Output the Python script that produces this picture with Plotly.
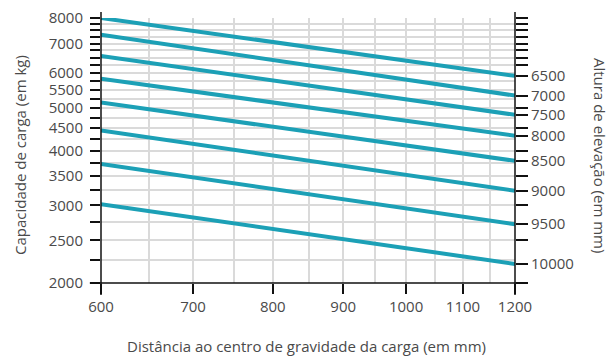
import plotly.graph_objects as go

# ---- data ----
distance_mm = [600, 1200]
lift_heights_mm = [6500, 7000, 7500, 8000, 8500, 9000, 9500, 10000]
capacity_at_600 = [8000, 7330, 6560, 5820, 5140, 4440, 3730, 3020]
capacity_at_1200 = [5910, 5330, 4820, 4320, 3790, 3240, 2720, 2210]

x_ticks = [600, 700, 800, 900, 1000, 1100, 1200]
x_minor = [650, 750, 850, 950, 1050, 1150]
y_ticks = list(range(2000, 8001, 250))
y_labels = [2000, 2500, 3000, 3500, 4000, 4500, 5000, 5500, 6000, 7000, 8000]

LINE = "#1CA0B6"
TXT = "#4a4a4a"
GRID = "#dadada"
FONT = "Open Sans"
TICKSZ = 15

fig = go.Figure()
for h, a, b in zip(lift_heights_mm, capacity_at_600, capacity_at_1200):
    fig.add_trace(go.Scatter(
        x=distance_mm, y=[a, b], mode="lines", name=f"{h} mm",
        line=dict(color=LINE, width=4), showlegend=False, hoverinfo="skip"))

# invisible trace to anchor the right axis
fig.add_trace(go.Scatter(
    x=[distance_mm[-1]] * len(capacity_at_1200), y=capacity_at_1200,
    yaxis="y2", mode="markers", marker=dict(opacity=0),
    showlegend=False, hoverinfo="skip"))

# unlabeled right ticks: the 250-kg grid, skipping those that crowd a labelled tick
plain_right = [v for v in y_ticks
               if all(abs(v - c) / c > 0.035 for c in capacity_at_1200)]
right_vals = plain_right + capacity_at_1200
right_text = [""] * len(plain_right) + [str(h) for h in lift_heights_mm]

yr = [3.30103, 3.90309]
fig.update_layout(
    template="none",
    width=615, height=360, autosize=False,
    margin=dict(l=101, r=100, t=18, b=77, autoexpand=False),
    paper_bgcolor="white", plot_bgcolor="white",
    font=dict(family=FONT, size=15, color=TXT),
    xaxis=dict(
        type="log", range=[2.778151, 3.079181], automargin=False,
        tickmode="array", tickvals=x_ticks, ticktext=[str(v) for v in x_ticks],
        ticks="outside", ticklen=10, tickwidth=1.5, tickcolor="#111",
        showgrid=True, gridcolor=GRID, gridwidth=1.5,
        showline=False, zeroline=False,
        minor=dict(tickmode="array", tickvals=x_minor, ticklen=0,
                   showgrid=True, gridcolor=GRID, gridwidth=1.5),
        tickfont=dict(size=TICKSZ, color=TXT, family=FONT),
    ),
    yaxis=dict(
        type="log", range=yr, automargin=False,
        tickmode="array", tickvals=y_ticks,
        ticktext=[str(v) if v in y_labels else "" for v in y_ticks],
        ticks="outside", ticklen=10, tickwidth=1.5, tickcolor="#111",
        ticklabelstandoff=4,
        showgrid=True, gridcolor=GRID, gridwidth=1.5,
        showline=False, zeroline=False,
        tickfont=dict(size=TICKSZ, color=TXT, family=FONT),
    ),
    yaxis2=dict(
        type="log", range=yr, overlaying="y", side="right", automargin=False,
        tickmode="array", tickvals=right_vals, ticktext=right_text,
        ticks="outside", ticklen=12, tickwidth=1.5, tickcolor="#111",
        showgrid=False, showline=False, zeroline=False,
        tickfont=dict(size=TICKSZ, color=TXT, family=FONT),
    ),
    shapes=[
        dict(type="line", xref="paper", yref="paper", x0=0, x1=0, y0=-0.045, y1=1.023,
             line=dict(color="#111", width=1.5)),
        dict(type="line", xref="paper", yref="paper", x0=1, x1=1, y0=-0.045, y1=1.023,
             line=dict(color="#111", width=1.5)),
        dict(type="line", xref="paper", yref="paper", x0=-0.027, x1=1.029, y0=0, y1=0,
             line=dict(color="#111", width=1.5)),
    ],
    annotations=[
        dict(text="Capacidade de carga (em kg)", xref="paper", yref="paper",
             x=0, y=0.483, xshift=-81, textangle=-90, showarrow=False,
             xanchor="center", yanchor="middle", font=dict(size=15, color=TXT, family=FONT)),
        dict(text="Altura de elevação (em mm)", xref="paper", yref="paper",
             x=1, y=0.483, xshift=85, textangle=90, showarrow=False,
             xanchor="center", yanchor="middle", font=dict(size=15, color=TXT, family=FONT)),
        dict(text="Distância ao centro de gravidade da carga (em mm)", xref="paper", yref="paper",
             x=0.5, y=0, xshift=-2, yshift=-63, showarrow=False,
             xanchor="center", yanchor="middle", font=dict(size=15, color=TXT, family=FONT)),
    ],
)

fig.write_html("out.html", config={"displayModeBar": False},
               post_script="document.body.style.margin='0';")
